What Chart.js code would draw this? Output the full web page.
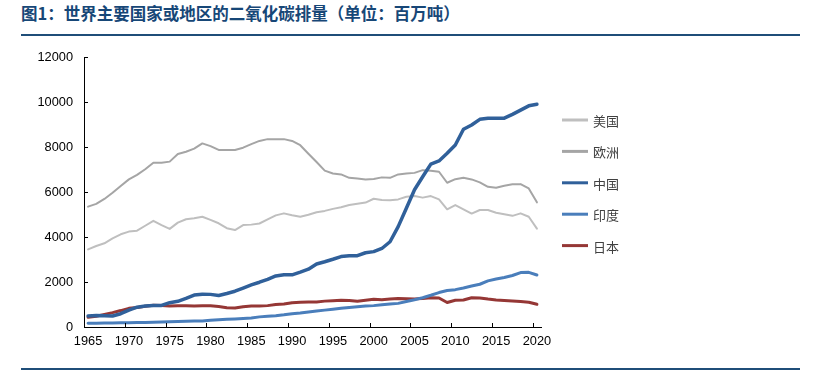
<!DOCTYPE html>
<html><head><meta charset="utf-8">
<script src="https://cdn.jsdelivr.net/npm/chart.js@4"></script>
<style>
html,body{margin:0;padding:0;background:#fff;}
#wrap{position:relative;width:822px;height:371px;overflow:hidden;background:#fff;}
#title{position:absolute;left:21px;top:2px;font-weight:bold;font-size:16.5px;font-family:"Noto Sans CJK SC",sans-serif;color:#174777;white-space:nowrap;line-height:22px;}
.rule{position:absolute;left:21px;width:779px;height:2px;background:#1F4E79;}
canvas{position:absolute;left:0;top:0;}
</style></head>
<body><div id="wrap">
<div id="title">图1：世界主要国家或地区的二氧化碳排量（单位：百万吨）</div>
<div class="rule" style="top:34px"></div>
<div class="rule" style="top:368px"></div>
<canvas id="c" width="822" height="371"></canvas>
</div>
<script>
const years = [1965,1966,1967,1968,1969,1970,1971,1972,1973,1974,1975,1976,1977,1978,1979,1980,1981,1982,1983,1984,1985,1986,1987,1988,1989,1990,1991,1992,1993,1994,1995,1996,1997,1998,1999,2000,2001,2002,2003,2004,2005,2006,2007,2008,2009,2010,2011,2012,2013,2014,2015,2016,2017,2018,2019,2020];
const xTickLabels = [1965,1970,1975,1980,1985,1990,1995,2000,2005,2010,2015,2020];
const yTickLabels = [0,2000,4000,6000,8000,10000,12000];
const seriesNames = ["美国","欧洲","中国","印度","日本"];
const usa = [3450,3600,3720,3940,4120,4240,4280,4500,4720,4530,
  4360,4640,4790,4830,4900,4760,4610,4390,4310,4530,
  4550,4600,4780,4960,5050,4970,4900,4990,5100,5160,
  5250,5320,5420,5480,5530,5700,5640,5630,5670,5790,
  5820,5750,5820,5670,5230,5420,5230,5040,5200,5200,
  5080,5010,4940,5050,4900,4370];
const europe = [5350,5470,5690,5970,6270,6560,6760,7010,7300,7300,
  7350,7690,7790,7930,8160,8040,7870,7870,7870,7970,
  8130,8270,8350,8350,8350,8270,8080,7700,7330,6950,
  6820,6780,6630,6600,6560,6580,6650,6630,6780,6820,
  6850,6970,6940,6900,6410,6570,6630,6560,6430,6230,
  6190,6280,6340,6350,6160,5540];
const china = [490,510,500,490,590,750,880,930,960,960,
  1080,1140,1270,1420,1460,1450,1400,1490,1590,1730,
  1870,1990,2120,2270,2320,2320,2440,2570,2800,2900,
  3010,3130,3170,3170,3300,3350,3490,3790,4460,5280,
  6100,6680,7240,7380,7720,8090,8790,8980,9230,9280,
  9280,9280,9450,9640,9830,9900];
const india = [165,170,175,180,185,190,195,205,215,225,
  235,245,255,265,270,300,320,340,360,380,
  400,450,480,500,540,590,620,670,710,750,
  790,830,870,900,930,950,990,1020,1050,1130,
  1210,1300,1410,1530,1620,1660,1730,1820,1900,2050,
  2130,2200,2290,2420,2430,2310];
const japan = [430,480,560,640,730,830,870,920,970,960,
  930,940,940,930,940,940,910,860,840,900,
  930,930,950,1000,1020,1080,1100,1110,1110,1150,
  1170,1190,1180,1140,1190,1230,1210,1240,1270,1260,
  1250,1270,1300,1290,1090,1190,1200,1300,1290,1240,
  1200,1180,1160,1130,1100,1010];

const colors = ["#BFBFBF","#A5A5A5","#30609A","#4A7EBB","#953735"];
const widths = [2,2,3.5,3,3];
const orders = [4,3,0,1,2];
const allSeries = [usa, europe, china, india, japan];

const pts = arr => arr.map((v,i)=>({x:years[i], y:v}));

const tickMarks = {
  id:'tickMarks',
  afterDraw(chart){
    const {ctx, scales:{x,y}} = chart;
    ctx.save(); ctx.strokeStyle='#000'; ctx.lineWidth=1;
    ctx.beginPath();
    y.ticks.forEach(t=>{ const py=Math.round(y.getPixelForValue(t.value))+0.5; ctx.moveTo(x.left, py); ctx.lineTo(x.left+4, py);});
    x.ticks.forEach(t=>{ if (t.value===xTickLabels[0]) return; const px=Math.round(x.getPixelForValue(t.value-0.5))+0.5; ctx.moveTo(px, y.bottom); ctx.lineTo(px, y.bottom-4);});
    ctx.stroke(); ctx.restore();
  }
};
const customLegend = {
  id:'customLegend',
  afterDraw(chart){
    const ctx = chart.ctx; const x0 = chart.chartArea.right + 21;
    ctx.save();
    chart.data.datasets.forEach((ds,i)=>{
      const cy = 120 + i*31.4;
      ctx.strokeStyle = ds.borderColor; ctx.lineWidth = 3; ctx.lineCap='butt';
      ctx.beginPath(); ctx.moveTo(x0, cy); ctx.lineTo(x0+26, cy); ctx.stroke();
      ctx.fillStyle = '#404040'; ctx.font = '13px "Noto Sans CJK SC"'; ctx.textBaseline='middle'; ctx.textAlign='left';
      ctx.fillText(ds.label, x0+31, cy+1);
    });
    ctx.restore();
  }
};

new Chart(document.getElementById('c'), {
  type:'line',
  data:{ datasets: allSeries.map((s,i)=>({
    label: seriesNames[i], data: pts(s), borderColor: colors[i], backgroundColor: colors[i],
    borderWidth: widths[i], pointRadius:0, tension:0, order: orders[i],
    borderJoinStyle:'round', borderCapStyle:'round', fill:false
  }))},
  options:{
    responsive:false, animation:false, devicePixelRatio:1,
    layout:{padding:{left:0, top:57, right:281, bottom:0}},
    plugins:{legend:{display:false}, tooltip:{enabled:false}, title:{display:false}},
    scales:{
      x:{ type:'linear', min:1964.5, max:2020.5,
        afterBuildTicks(s){ s.ticks = xTickLabels.map(v=>({value:v})); },
        afterFit(s){ s.height = 44; },
        grid:{display:false, drawTicks:false},
        border:{display:true, color:'#000', width:1},
        ticks:{ autoSkip:false, maxRotation:0, padding:7, color:'#000', font:{family:'"Liberation Sans"', size:12.8},
          callback:v=>String(v) }
      },
      y:{ min:0, max:12000,
        afterBuildTicks(s){ s.ticks = yTickLabels.map(v=>({value:v})); },
        afterFit(s){ s.width = 84; },
        grid:{display:false, drawTicks:false},
        border:{display:true, color:'#000', width:1},
        ticks:{ padding:11, color:'#000', font:{family:'"Liberation Sans"', size:12.8}, callback:v=>String(v) }
      }
    }
  },
  plugins:[tickMarks, customLegend]
});
</script>
</body></html>
